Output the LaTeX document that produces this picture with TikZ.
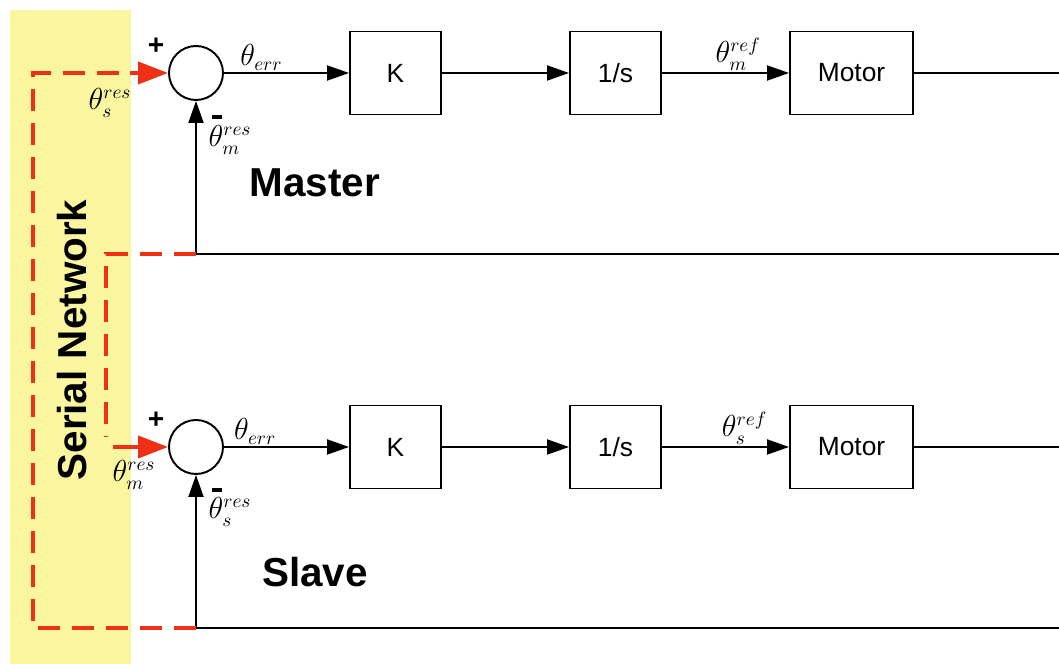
\documentclass[tikz,border=0pt]{standalone}
\usepackage{fontspec}
\setmainfont{Liberation Sans}
\usetikzlibrary{arrows.meta,positioning}

\definecolor{netyellow}{RGB}{250,246,160}
\definecolor{netred}{RGB}{238,48,20}

\begin{document}
\begin{tikzpicture}[
    block/.style={draw, line width=1.1pt, minimum width=1.82cm, minimum height=1.66cm, font=\fontsize{15}{18}\selectfont},
    sumnode/.style={draw, circle, line width=1.1pt, minimum size=1.08cm, inner sep=0pt},
    wire/.style={line width=1.1pt},
    sig/.style={wire, -{Triangle[length=0.44cm,width=0.3cm]}},
    net/.style={netred, line width=2.2pt, dash pattern=on 0.44cm off 0.24cm},
    netarrow/.style={netred, line width=2.2pt, -{Triangle[length=0.6cm,width=0.44cm]}},
    lbl/.style={font=\fontsize{16}{18}\selectfont, inner sep=1pt},
    sign/.style={font=\bfseries\fontsize{16}{18}\selectfont},
    minus/.style={fill, minimum width=0.2cm, minimum height=0.07cm, inner sep=0pt},
    title/.style={font=\bfseries\fontsize{23}{26}\selectfont}
]
\useasboundingbox (0,0) rectangle (21.18,13.28);

% serial network band
\fill[netyellow] (0.2,0) rectangle (2.62,13.08);
\node[title, rotate=90] (serial) at (1.44,6.48) {Serial Network};

% master loop
\node[sumnode] (sumM) at (3.92,11.82) {};
\node[block] (kM) at (7.91,11.82) {K};
\node[block] (intM) at (12.31,11.82) {1/s};
\node[block, minimum width=2.46cm] (motorM) at (17.03,11.82) {Motor};
\coordinate (outM) at (21.18,11.82);
\coordinate (fbM) at (3.92,8.2);
\coordinate (fbMend) at (21.18,8.2);

\draw[sig] (sumM) -- (kM) node[lbl, pos=0.3, above] {$\theta_{err}$};
\draw[sig] (kM) -- (intM);
\draw[sig] (intM) -- (motorM) node[lbl, pos=0.6, above] {$\theta_m^{ref}$};
\draw[wire] (motorM) -- (outM);
\draw[wire] (fbMend) -- (fbM);
\draw[sig] (fbM) -- (sumM.south);

\node[sign] (plusM) at (3.12,12.36) {+};
\node[minus] (minusM) at (4.34,10.94) {};
\node[lbl] (inM) at (2.2,11.22) {$\theta_s^{res}$};
\node[lbl] (fbMlbl) at (4.6,10.48) {$\theta_m^{res}$};
\node[title] (master) at (6.3,9.62) {Master};

% slave loop
\node[sumnode] (sumS) at (3.92,4.34) {};
\node[block] (kS) at (7.91,4.34) {K};
\node[block] (intS) at (12.31,4.34) {1/s};
\node[block, minimum width=2.46cm] (motorS) at (17.03,4.34) {Motor};
\coordinate (outS) at (21.18,4.34);
\coordinate (fbS) at (3.92,0.72);
\coordinate (fbSend) at (21.18,0.72);

\draw[sig] (sumS) -- (kS) node[lbl, pos=0.25, above] {$\theta_{err}$};
\draw[sig] (kS) -- (intS);
\draw[sig] (intS) -- (motorS) node[lbl, pos=0.65, above] {$\theta_s^{ref}$};
\draw[wire] (motorS) -- (outS);
\draw[wire] (fbSend) -- (fbS);
\draw[sig] (fbS) -- (sumS.south);

\node[sign] (plusS) at (3.12,4.88) {+};
\node[minus] (minusS) at (4.34,3.48) {};
\node[lbl] (inS) at (2.68,3.78) {$\theta_m^{res}$};
\node[lbl] (fbSlbl) at (4.6,3.04) {$\theta_s^{res}$};
\node[title] (slave) at (6.3,1.84) {Slave};

% network links between the loops
\draw[net] (fbS) -- (0.66,0.72) -- (0.66,11.82) -- (2.6,11.82);
\draw[netarrow] (2.6,11.82) -- (sumM.west);
\draw[net] (fbM) -- (2.12,8.2) -- (2.12,4.54);
\draw[netarrow] (2.26,4.34) -- (sumS.west);
\end{tikzpicture}
\end{document}
